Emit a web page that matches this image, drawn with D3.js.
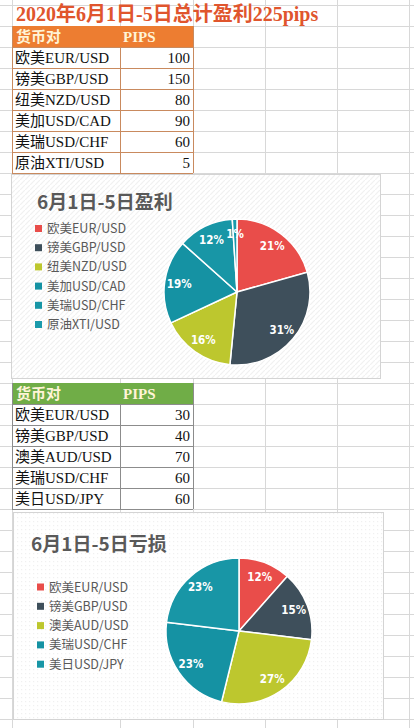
<!DOCTYPE html>
<html><head><meta charset="utf-8">
<script src="https://cdn.jsdelivr.net/npm/d3@7"></script>
<style>html,body{margin:0;padding:0;background:#fff;}svg{display:block;}</style>
</head><body>
<div id="chart"></div>
<script>
// ---- data ----
const sheetTitle = "2020年6月1日-5日总计盈利225pips";
const tableHeaders = ["货币对", "PIPS"];
const profitPairs = ["欧美EUR/USD", "镑美GBP/USD", "纽美NZD/USD", "美加USD/CAD", "美瑞USD/CHF", "原油XTI/USD"];
const profitPips = [100, 150, 80, 90, 60, 5];
const profitTitle = "6月1日-5日盈利";
const lossPairs = ["欧美EUR/USD", "镑美GBP/USD", "澳美AUD/USD", "美瑞USD/CHF", "美日USD/JPY"];
const lossPips = [30, 40, 70, 60, 60];
const lossTitle = "6月1日-5日亏损";
const profitColors = ["#E94D4A", "#3E4F5B", "#BDC72E", "#1592A3", "#1896A6", "#1A9AAB"];
const lossColors = ["#E94D4A", "#3E4F5B", "#BDC72E", "#1592A3", "#1896A6"];

const W = 414, H = 728;
const svg = d3.select("#chart").append("svg").attr("width", W).attr("height", H);

const defs = svg.append("defs");
const p1 = defs.append("pattern").attr("id", "diag").attr("patternUnits", "userSpaceOnUse")
  .attr("width", 5).attr("height", 5);
p1.append("rect").attr("width", 5).attr("height", 5).attr("fill", "#fff");
p1.append("path").attr("d", "M-1,6 L6,-1").attr("stroke", "#f1f1f1").attr("stroke-width", 1.2);
const p2 = defs.append("pattern").attr("id", "dots").attr("patternUnits", "userSpaceOnUse")
  .attr("width", 4).attr("height", 4);
p2.append("rect").attr("width", 4).attr("height", 4).attr("fill", "#fff");
p2.append("rect").attr("x", 1).attr("y", 1).attr("width", 1.2).attr("height", 1.2).attr("fill", "#f0f0f0");

// ---- sheet gridlines ----
const rowY = d3.range(0, 35).map(k => 5 + 21 * k);
const colX = [12, 120, 193, 265, 337, 409];
const grid = svg.append("g");
grid.selectAll("line.h").data(rowY).join("line")
  .attr("x1", 0).attr("x2", W).attr("y1", d => d + 0.5).attr("y2", d => d + 0.5)
  .attr("stroke", "#d8d8d8");
grid.selectAll("line.v").data(colX).join("line")
  .attr("x1", d => d + 0.5).attr("x2", d => d + 0.5).attr("y1", 0).attr("y2", H)
  .attr("stroke", "#d8d8d8");

// ---- sheet title ----
svg.append("text").attr("x", 16).attr("y", 21)
  .attr("font-family", "'Liberation Serif','Noto Sans CJK SC',serif")
  .attr("font-weight", "bold").attr("font-size", 20).attr("fill", "#E0552D")
  .text(sheetTitle);

// ---- tables ----
function drawTable(top, pairs, pips, headFill, borderColor) {
  const g = svg.append("g");
  const rows = pairs.length;
  const x0 = colX[0], x1 = colX[1], x2 = colX[2];
  g.append("rect").attr("x", x0).attr("y", top).attr("width", x2 - x0).attr("height", 21 + 21 * rows).attr("fill", "#fff");
  g.append("rect").attr("x", x0).attr("y", top).attr("width", x2 - x0).attr("height", 21).attr("fill", headFill);
  const hf = "'Liberation Serif','Noto Sans CJK SC',serif";
  g.append("text").attr("x", x0 + 4).attr("y", top + 16).attr("font-family", hf).attr("font-weight", "bold")
    .attr("font-size", 15).attr("fill", "#FFF4D6").text(tableHeaders[0]);
  g.append("text").attr("x", x1 + 3).attr("y", top + 16).attr("font-family", hf).attr("font-weight", "bold")
    .attr("font-size", 15).attr("fill", "#FFF4D6").text(tableHeaders[1]);
  pairs.forEach((p, i) => {
    const y = top + 21 * (i + 1);
    g.append("line").attr("x1", x0).attr("x2", x2).attr("y1", y + 0.5).attr("y2", y + 0.5).attr("stroke", borderColor);
    g.append("text").attr("x", x0 + 3).attr("y", y + 16).attr("font-family", hf).attr("font-size", 15)
      .attr("fill", "#111").text(p);
    g.append("text").attr("x", x2 - 3).attr("y", y + 16).attr("text-anchor", "end").attr("font-family", hf)
      .attr("font-size", 15).attr("fill", "#111").text(pips[i]);
  });
  const bottom = top + 21 * (rows + 1);
  g.append("line").attr("x1", x0).attr("x2", x2).attr("y1", bottom + 0.5).attr("y2", bottom + 0.5).attr("stroke", borderColor);
  g.append("line").attr("x1", x1 + 0.5).attr("x2", x1 + 0.5).attr("y1", top + 21).attr("y2", bottom).attr("stroke", borderColor);
  g.append("line").attr("x1", x0 + 0.5).attr("x2", x0 + 0.5).attr("y1", top).attr("y2", bottom).attr("stroke", borderColor);
  g.append("line").attr("x1", x2 + 0.5).attr("x2", x2 + 0.5).attr("y1", top).attr("y2", bottom).attr("stroke", borderColor);
}
drawTable(26, profitPairs, profitPips, "#ED7D31", "#C98A5E");
drawTable(383, lossPairs, lossPips, "#70AD47", "#8C8C8C");

// ---- pie charts ----
function drawPie(box, title, pairs, pips, colors, pattern, lay) {
  const g = svg.append("g");
  g.append("rect").attr("x", box.x + 0.5).attr("y", box.y + 0.5).attr("width", box.w).attr("height", box.h)
    .attr("fill", `url(#${pattern})`).attr("stroke", "#d4d4d4");
  g.append("text").attr("x", lay.tx).attr("y", lay.ty)
    .attr("font-family", "'Noto Sans CJK SC','Noto Sans',sans-serif").attr("font-weight", "bold")
    .attr("font-size", 19).attr("fill", "#595959").text(title);
  const color = d3.scaleOrdinal().domain(pairs).range(colors);
  const leg = g.append("g");
  pairs.forEach((p, i) => {
    const cy = lay.ly + lay.ls * i;
    leg.append("rect").attr("x", lay.lx).attr("y", cy - 3.5).attr("width", 7).attr("height", 7).attr("fill", color(p));
    leg.append("text").attr("x", lay.lx + 12).attr("y", cy + 4.5)
      .attr("font-family", "'Noto Sans CJK SC','Noto Sans',sans-serif")
      .attr("font-size", 12.5).attr("fill", "#595959").text(p);
  });
  const total = d3.sum(pips);
  const pie = d3.pie().sort(null).value(d => d.v);
  const arcs = pie(pairs.map((p, i) => ({ p, v: pips[i] })));
  const arc = d3.arc().innerRadius(0).outerRadius(lay.r);
  const labelArc = d3.arc().innerRadius(lay.r * 0.8).outerRadius(lay.r * 0.8);
  const pg = g.append("g").attr("transform", `translate(${lay.cx},${lay.cy})`);
  pg.selectAll("path").data(arcs).join("path")
    .attr("d", arc).attr("fill", d => color(d.data.p))
    .attr("stroke", "#fff").attr("stroke-width", 1.5).attr("stroke-linejoin", "round");
  const fmt = d3.format(".0%");
  pg.selectAll("text").data(arcs).join("text")
    .attr("transform", d => `translate(${labelArc.centroid(d)})`)
    .attr("text-anchor", "middle").attr("dy", "0.36em")
    .attr("font-family", "'DejaVu Sans Condensed','Liberation Sans Narrow',sans-serif")
    .attr("font-weight", "bold").attr("font-size", 11.5).attr("fill", "#fff")
    .text(d => fmt(d.data.v / total));
}

drawPie({ x: 11, y: 174, w: 369, h: 204 }, profitTitle, profitPairs, profitPips, profitColors, "diag",
  { tx: 37, ty: 209, lx: 35, ly: 228.5, ls: 19.2, cx: 237, cy: 292, r: 73 });
drawPie({ x: 13, y: 512, w: 370, h: 207 }, lossTitle, lossPairs, lossPips, lossColors, "dots",
  { tx: 31, ty: 551, lx: 37, ly: 587, ls: 19.3, cx: 239, cy: 631, r: 73 });
</script>
</body></html>
